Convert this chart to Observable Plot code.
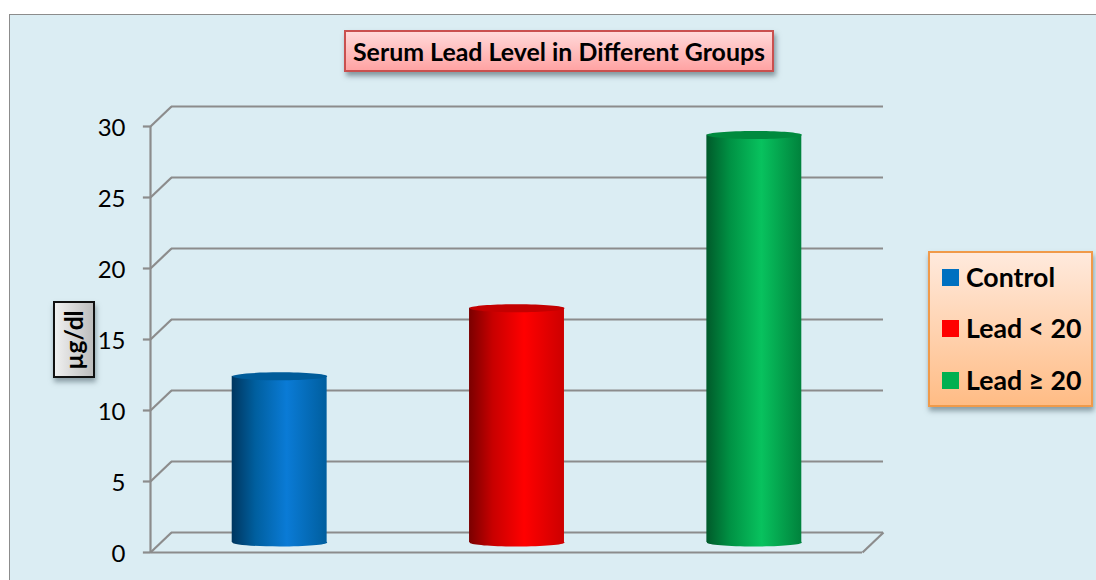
<!DOCTYPE html>
<html>
<head>
<meta charset="utf-8">
<script src="https://cdn.jsdelivr.net/npm/d3@7"></script>
<script src="https://cdn.jsdelivr.net/npm/@observablehq/plot@0.6"></script>
<style>
html,body{margin:0;padding:0;background:#fff;overflow:hidden}
#stage{position:relative;width:1096px;height:580px;font-family:Lato,"Open Sans",sans-serif;color:#000}
#panel{position:absolute;left:9px;top:14px;width:1100px;height:600px;background:#dbedf3;border:1.5px solid #8c8c8c;box-sizing:border-box}
#chart{position:absolute;left:0;top:0}
.box{position:absolute;box-sizing:border-box;font-weight:700}
#title{left:344px;top:30px;width:430px;height:42px;line-height:39px;text-align:center;font-size:24.9px;white-space:nowrap;
 border:2px solid #c9504f;background:linear-gradient(#ffd9d9,#ffa3a3);box-shadow:2px 4px 5px rgba(60,80,90,.55)}
#ylabel{left:53px;top:301px;width:41.5px;height:77px;border:2px solid #111;background:linear-gradient(90deg,#f0f0f0,#bdbdbd);box-shadow:1px 4px 5px rgba(60,80,90,.5)}
#ylabel span{position:absolute;left:50%;top:50%;transform:translate(-50%,-50%) rotate(-90deg);font-size:24.5px;white-space:nowrap;line-height:1}
#legend{left:928px;top:251px;width:165px;height:156px;border:2px solid #f09a4a;background:linear-gradient(#ffeadd,#ffbc85);box-shadow:1px 4px 5px rgba(60,80,90,.5)}
.item{position:absolute;left:36px;font-size:26.7px;line-height:30px;white-space:nowrap}
.swatch{position:absolute;left:12px;width:17px;height:17px}
</style>
</head>
<body>
<div id="stage"><div id="panel"></div><div id="chart"></div></div>
<script>
const groups = ["Control", "Lead < 20", "Lead ≥ 20"];
const values = [11.7, 16.5, 28.7];
const ticks = [0, 5, 10, 15, 20, 25, 30];
const swatchColors = ["#0070c0", "#ff0000", "#00b050"];
const capColors = ["#005c9a", "#c40000", "#008a3e"];
const shades = [
  ["#00365f", "#005f9f", "#0a7bd6", "#005e9e"],
  ["#7a0000", "#c80000", "#ff0000", "#cc0000"],
  ["#005a2a", "#009244", "#08c25e", "#00823c"]
];
const titleText = "Serum Lead Level in Different Groups";
const yTitle = "µg/dl";

const grey = "#8c8c8c";
const lineW = 2.2;
const depthX = 0.0885, depthY = 1.41, barW = 0.4, lift = -10, tickLen = 0.03;
const center = i => i + 0.5 + depthX / 2;
const ell = (rx, ry) => ({draw(c) {
  const k = 0.5523;
  c.moveTo(-rx, 0);
  c.bezierCurveTo(-rx, -ry * k, -rx * k, -ry, 0, -ry);
  c.bezierCurveTo(rx * k, -ry, rx, -ry * k, rx, 0);
  c.bezierCurveTo(rx, ry * k, rx * k, ry, 0, ry);
  c.bezierCurveTo(-rx * k, ry, -rx, ry * k, -rx, 0);
  c.closePath();
}});

const defs = () => {
  const d = d3.create("svg:defs");
  shades.forEach((s, i) => {
    const g = d.append("linearGradient").attr("id", "g" + i);
    [0, 0.25, 0.58, 1].forEach((o, j) => g.append("stop").attr("offset", o).attr("stop-color", s[j]));
  });
  return d.node();
};

const plot = Plot.plot({
  width: 1096, height: 580,
  marginLeft: 150, marginRight: 234, marginTop: 126, marginBottom: 28,
  style: {background: "transparent", fontFamily: "Lato, sans-serif"},
  x: {domain: [0, 3], axis: null},
  y: {domain: [0, 30], axis: null},
  marks: [
    defs,
    Plot.ruleY(ticks, {x1: -tickLen, x2: 0, y: d => d, stroke: grey, strokeWidth: lineW}),
    Plot.link(ticks, {x1: 0, x2: depthX, y1: d => d, y2: d => d + depthY, stroke: grey, strokeWidth: lineW}),
    Plot.ruleY(ticks, {x1: depthX, x2: 3 + depthX, y: d => d + depthY, stroke: grey, strokeWidth: lineW}),
    Plot.ruleX([0], {y1: 0, y2: 30, stroke: grey, strokeWidth: lineW}),
    Plot.ruleY([0], {x1: 0, x2: 3, stroke: grey, strokeWidth: lineW}),
    Plot.link([0], {x1: 3, x2: 3 + depthX, y1: 0, y2: depthY, stroke: grey, strokeWidth: lineW}),
    Plot.axisY(ticks, {anchor: "left", tickSize: 0, tickPadding: 25, fontSize: 24, fill: "#000", label: null, ticks, dy: 1.5}),
    ...values.flatMap((v, i) => [
      Plot.dot([i], {x: center, y: () => 0, symbol: ell(47.5, 4), fill: `url(#g${i})`, dy: lift}),
      Plot.rect([i], {x1: d => center(d) - barW / 2, x2: d => center(d) + barW / 2, y1: () => 0, y2: () => v, fill: `url(#g${i})`, dy: lift}),
      Plot.dot([i], {x: center, y: () => v, symbol: ell(47.5, 4), fill: capColors[i], dy: lift})
    ])
  ]
});
document.getElementById("chart").append(plot);

const stage = d3.select("#stage");
stage.append("div").attr("class", "box").attr("id", "title").text(titleText);
stage.append("div").attr("class", "box").attr("id", "ylabel").append("span").text(yTitle);
const legend = stage.append("div").attr("class", "box").attr("id", "legend");
groups.forEach((g, i) => {
  const top = [10, 61, 113][i];
  legend.append("div").attr("class", "swatch").style("top", (top + 6) + "px").style("background", swatchColors[i]);
  legend.append("div").attr("class", "item").style("top", (top - 1) + "px").text(g);
});
</script>
</body>
</html>
